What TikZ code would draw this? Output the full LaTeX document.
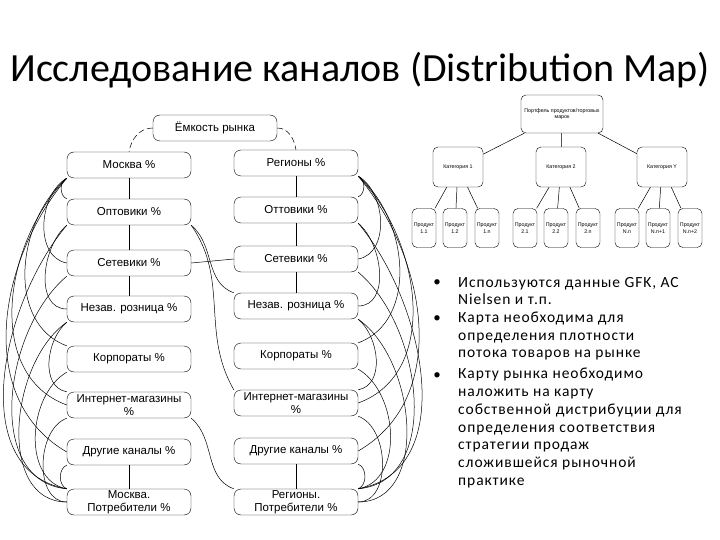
\documentclass[tikz,border=0pt]{standalone}
\usepackage{fontspec}
\setmainfont{Carlito}
\newfontfamily\arialfont{Liberation Sans}
\newfontfamily\punktfont[LetterSpace=6]{Carlito}
\begin{document}
\begin{tikzpicture}[x=1pt, y=1pt,
    kanal/.style={draw, rounded corners=7pt, minimum width=124pt, minimum height=26pt, inner sep=1pt, align=center, font=\arialfont\fontsize{11.5}{12.5}\selectfont},
    tovar/.style={draw, rounded corners=5pt, align=center, inner sep=0.5pt, font=\arialfont\fontsize{5.3}{6.5}\selectfont},
    produkt/.style={tovar, minimum width=24pt, minimum height=39pt},
    potok/.style={line width=0.5pt},
    svyaz/.style={line width=0.5pt, dash pattern=on 6pt off 3pt},
    punkt/.style={anchor=west, align=left, inner sep=0pt, font=\punktfont\fontsize{15.5}{17.8}\selectfont}]
    \useasboundingbox[fill=white] (0,0) rectangle (720,-540);

    % Заголовок
    \node (zag) at (360,-70) {\fontsize{40}{44}\selectfont Исследование каналов (Distribution Map)};

    % Карта каналов: Москва слева, регионы справа
    \node[kanal] (emk) at (215,-128) {Ёмкость рынка};
    \node[kanal] (mos) at (129,-165) {Москва \%};
    \node[kanal] (reg) at (296,-163) {Регионы \%};
    \node[kanal] (ol) at (129,-212) {Оптовики \%};
    \node[kanal] (or) at (296,-210) {Оттовики \%};
    \node[kanal] (sl) at (129,-263) {Сетевики \%};
    \node[kanal] (sr) at (296,-259) {Сетевики \%};
    \node[kanal] (nl) at (129,-309) {Незав. розница \%};
    \node[kanal] (nr) at (296,-306) {Незав. розница \%};
    \node[kanal] (kl) at (129,-359) {Корпораты \%};
    \node[kanal] (kr) at (296,-356) {Корпораты \%};
    \node[kanal] (il) at (129,-405) {Интернет-магазины\\\%};
    \node[kanal] (ir) at (296,-403) {Интернет-магазины\\\%};
    \node[kanal] (dl) at (129,-452) {Другие каналы \%};
    \node[kanal] (dr) at (296,-451) {Другие каналы \%};
    \node[kanal] (mpot) at (129,-502) {Москва.\\Потребители \%};
    \node[kanal] (rpot) at (296,-502) {Регионы.\\Потребители \%};

    % Связи по колонкам
    \draw[svyaz] (emk.west) to[out=180,in=80] (mos.north);
    \draw[svyaz] (emk.east) to[out=0,in=100] (reg.north);
    \draw[potok] (mos) -- (ol);
    \draw[potok] (ol) -- (sl);
    \draw[potok] (sl) -- (nl);
    \draw[potok] (dl) -- (mpot);
    \draw[potok] (reg) -- (or);
    \draw[potok] (or) -- (sr);
    \draw[potok] (sr) -- (nr);
    \draw[potok] (dr) -- (rpot);

    % Потоки слева
    \draw[potok] (mos.south west) to[out=200,in=160] (ol.north west);
    \draw[potok] (mos.south west) to[out=210,in=170] (sl.west);
    \draw[potok] (mos.south west) to[out=220,in=160] (kl.north west);
    \draw[potok] (mos.south west) to[out=225,in=160] (il.west);
    \draw[potok] (mos.south west) to[out=230,in=150] (dl.west);
    \draw[potok] (ol.south west) to[out=220,in=180] (nl.west);
    \draw[potok] (ol.south west) to[out=230,in=170] (mpot.north west);
    \draw[potok] (sl.south west) to[out=220,in=175] (mpot.north west);
    \draw[potok] (nl.south west) to[out=220,in=170] (il.north west);
    \draw[potok] (nl.south west) to[out=215,in=180] (mpot.west);
    \draw[potok] (kl.south west) to[out=210,in=170] (mpot.north west);
    \draw[potok] (il.south west) to[out=200,in=180] (mpot.west);
    \draw[potok] (dl.south west) to[out=200,in=160] (mpot.north west);

    % Потоки справа
    \draw[potok] (reg.south east) to[out=-20,in=20] (or.north east);
    \draw[potok] (reg.south east) to[out=-30,in=10] (sr.east);
    \draw[potok] (reg.south east) to[out=-40,in=20] (kr.north east);
    \draw[potok] (reg.south east) to[out=-45,in=20] (ir.east);
    \draw[potok] (reg.south east) to[out=-50,in=30] (dr.east);
    \draw[potok] (or.south east) to[out=-40,in=0] (nr.east);
    \draw[potok] (or.south east) to[out=-50,in=10] (rpot.north east);
    \draw[potok] (sr.south east) to[out=-40,in=5] (rpot.north east);
    \draw[potok] (nr.south east) to[out=-40,in=10] (ir.north east);
    \draw[potok] (nr.south east) to[out=-35,in=0] (rpot.east);
    \draw[potok] (kr.south east) to[out=-30,in=10] (rpot.north east);
    \draw[potok] (ir.south east) to[out=-20,in=0] (rpot.east);
    \draw[potok] (dr.south east) to[out=-20,in=20] (rpot.north east);

    % Потоки между колонками
    \draw[potok] (sl.east) -- (sr.west);
    \draw[potok] (ol.south east) to[out=-40,in=160] (nr.north west);
    \draw[potok] (ol.south east) to[out=-55,in=120] (ir.north west);
    \draw[potok] (il.south east) to[out=-40,in=160] (rpot.north west);

    % Дерево портфеля
    \node[tovar, minimum width=82pt, minimum height=38pt] (port) at (562,-114) {Портфель продуктов/торговых\\марок};
    \node[tovar, minimum width=50pt, minimum height=40pt] (kat1) at (458,-167) {Категория 1};
    \node[tovar, minimum width=50pt, minimum height=40pt] (kat2) at (561,-167) {Категория 2};
    \node[tovar, minimum width=50pt, minimum height=40pt] (katy) at (662,-167) {Категория Y};
    \node[produkt] (p11) at (424,-228) {Продукт\\1.1};
    \node[produkt] (p12) at (455,-228) {Продукт\\1.2};
    \node[produkt] (p1n) at (487,-228) {Продукт\\1.n};
    \node[produkt] (p21) at (525,-228) {Продукт\\2.1};
    \node[produkt] (p22) at (556,-228) {Продукт\\2.2};
    \node[produkt] (p2n) at (588,-228) {Продукт\\2.n};
    \node[produkt] (pnn) at (627,-228) {Продукт\\N.n};
    \node[produkt] (pn1) at (658,-228) {Продукт\\N.n+1};
    \node[produkt] (pn2) at (690,-228) {Продукт\\N.n+2};
    \draw[potok] (port) -- (kat1);
    \draw[potok] (port) -- (kat2);
    \draw[potok] (port) -- (katy);
    \foreach \k/\a/\b/\c in {kat1/p11/p12/p1n, kat2/p21/p22/p2n, katy/pnn/pn1/pn2} {
        \draw[potok] (\k) -- (\a);
        \draw[potok] (\k) -- (\b);
        \draw[potok] (\k) -- (\c);
    }

    % Пункты списка
    \node (b1) at (437,-283) {\fontsize{15}{17}\selectfont •};
    \node (b2) at (437,-319) {\fontsize{15}{17}\selectfont •};
    \node (b3) at (437,-376) {\fontsize{15}{17}\selectfont •};
    \node[punkt] (t1) at (458,-291) {Используются данные GFK, AC\\Nielsen и т.п.};
    \node[punkt] (t2) at (458,-336) {Карта необходима для\\определения плотности\\потока товаров на рынке};
    \node[punkt] (t3) at (458,-428) {Карту рынка необходимо\\наложить на карту\\собственной дистрибуции для\\определения соответствия\\стратегии продаж\\сложившейся рыночной\\практике};
\end{tikzpicture}
\end{document}
